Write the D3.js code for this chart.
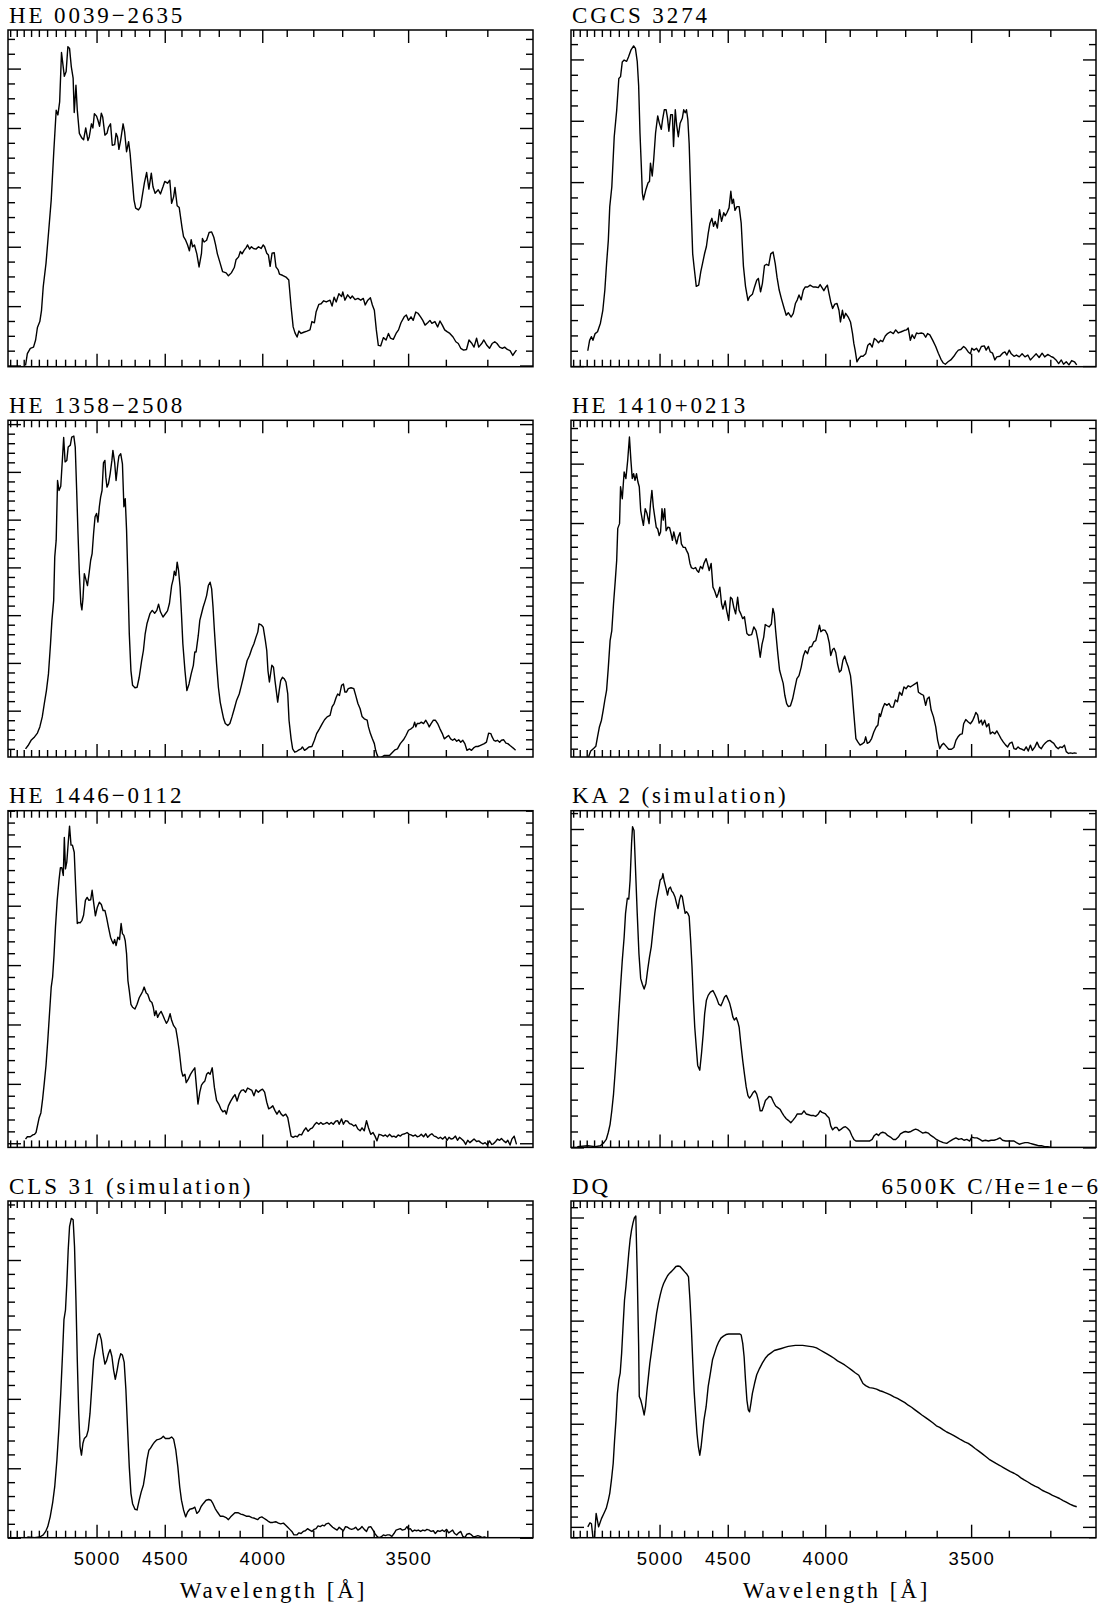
<!DOCTYPE html>
<html>
<head>
<meta charset="utf-8">
<title>Spectra</title>
<script src="https://cdn.jsdelivr.net/npm/d3@7"></script>
<style>
  body { margin: 0; background: #fff; }
  .title, .xlabel { font-family: "Liberation Serif", serif; font-size: 23px; letter-spacing: 2.9px; }
  .ticklab { font-family: "Liberation Sans", sans-serif; font-size: 18.5px; letter-spacing: 1.4px; }
</style>
</head>
<body>
<svg id="chart" width="1101" height="1607"></svg>
<script>
// wavelength axis (Angstrom), reversed and non-linear (prism dispersion)
const waveDomain = [6034, 3200];
const majorWaves = [5000, 4500, 4000, 3500];
const minorWaves = d3.range(3300, 6001, 100);

const titles = ["HE 0039−2635", "CGCS 3274", "HE 1358−2508", "HE 1410+0213",
                "HE 1446−0112", "KA 2 (simulation)", "CLS 31 (simulation)", "DQ"];
const rightTitles = ["", "", "", "", "", "", "", "6500K C/He=1e−6"];
// flux ranges of each panel, in units of the major y tick step
const yRanges = [[-0.02, 5.65], [-0.01, 5.48], [0.03, 7.08], [0.06, 5.73],
                 [-0.07, 5.60], [0, 4.23], [0, 4.85], [-0.21, 6.32]];
const yMinorCounts = [4, 4, 5, 5, 5, 5, 5, 5];

const he0039 = [[5775,0],[5750,0.2],[5710,0.29],[5668,0.31],[5641,0.43],[5618,0.64],[5588,0.74],[5567,0.93],[5546,1.33],[5513,1.72],[5484,2.22],[5452,2.79],[5424,3.57],[5396,4.3],[5377,4.22],[5358,4.44],[5338,5.27],[5308,4.87],[5289,4.95],[5271,5.37],[5254,5.34],[5236,5.03],[5218,4.84],[5207,4.26],[5190,4.72],[5177,4.3],[5157,3.91],[5133,3.83],[5117,3.8],[5097,4.0],[5077,3.79],[5065,3.85],[5045,4.07],[5032,4.0],[5019,4.24],[5000,4.2],[4988,4.13],[4974,4.03],[4959,4.25],[4947,4.18],[4929,3.88],[4912,3.91],[4900,4.01],[4883,4.07],[4869,3.71],[4850,3.72],[4839,3.91],[4828,3.85],[4817,3.64],[4803,3.8],[4785,4.07],[4774,3.94],[4759,3.6],[4744,3.77],[4733,3.57],[4723,3.29],[4705,2.79],[4693,2.65],[4673,2.62],[4659,2.67],[4644,2.9],[4632,3.08],[4617,3.25],[4602,2.97],[4586,3.24],[4575,3.01],[4561,2.9],[4541,2.96],[4527,2.89],[4511,3.01],[4500,3.1],[4483,3.07],[4469,3.12],[4458,2.73],[4446,2.84],[4438,3.0],[4425,2.69],[4413,2.66],[4396,2.31],[4388,2.17],[4376,2.11],[4365,2.03],[4355,1.93],[4345,2.12],[4337,2.0],[4327,2.03],[4314,1.88],[4302,1.66],[4289,1.89],[4284,2.14],[4275,2.08],[4262,2.11],[4249,2.24],[4236,2.25],[4225,2.16],[4216,2.03],[4207,1.88],[4193,1.72],[4181,1.58],[4164,1.56],[4153,1.51],[4139,1.56],[4125,1.65],[4117,1.78],[4105,1.83],[4097,1.92],[4089,1.88],[4080,1.94],[4070,1.99],[4064,2.03],[4055,1.96],[4047,2.0],[4038,1.97],[4027,1.96],[4016,2.0],[4005,1.97],[3996,2.03],[3990,2.0],[3981,1.89],[3974,1.86],[3967,1.67],[3959,1.89],[3950,1.9],[3943,1.66],[3934,1.61],[3929,1.54],[3917,1.52],[3903,1.49],[3892,1.44],[3883,0.99],[3875,0.65],[3868,0.55],[3860,0.48],[3853,0.58],[3845,0.54],[3835,0.56],[3823,0.58],[3812,0.6],[3805,0.74],[3796,0.72],[3790,0.9],[3780,1.03],[3772,1.04],[3763,1.09],[3754,1.07],[3741,1.1],[3734,1.0],[3727,1.15],[3720,1.07],[3711,1.21],[3702,1.16],[3698,1.24],[3691,1.1],[3682,1.19],[3673,1.13],[3667,1.17],[3658,1.11],[3649,1.13],[3640,1.1],[3632,1.13],[3626,1.02],[3618,1.1],[3610,1.14],[3604,1.02],[3598,0.93],[3592,0.6],[3586,0.34],[3579,0.33],[3571,0.47],[3563,0.43],[3556,0.54],[3550,0.46],[3542,0.44],[3534,0.54],[3527,0.6],[3520,0.72],[3511,0.82],[3505,0.85],[3499,0.76],[3492,0.82],[3486,0.76],[3479,0.9],[3473,0.88],[3466,0.82],[3460,0.76],[3454,0.68],[3447,0.72],[3441,0.76],[3436,0.71],[3428,0.74],[3421,0.65],[3415,0.75],[3409,0.68],[3403,0.6],[3397,0.57],[3390,0.54],[3382,0.48],[3375,0.4],[3369,0.37],[3363,0.29],[3356,0.26],[3349,0.27],[3343,0.43],[3337,0.38],[3331,0.31],[3325,0.46],[3320,0.31],[3313,0.37],[3308,0.43],[3301,0.34],[3295,0.29],[3289,0.37],[3283,0.4],[3278,0.37],[3272,0.31],[3266,0.29],[3261,0.31],[3255,0.27],[3249,0.25],[3243,0.17],[3238,0.23],[3235,0.26]];

const cgcs3274 = [[5785,0.25],[5760,0.42],[5735,0.48],[5715,0.42],[5686,0.53],[5655,0.56],[5618,0.7],[5588,0.91],[5563,1.24],[5542,1.67],[5521,2.05],[5504,2.6],[5480,2.92],[5452,3.74],[5424,4.17],[5400,4.69],[5381,4.72],[5362,4.96],[5342,4.99],[5315,4.97],[5296,5.04],[5271,5.15],[5243,5.22],[5225,5.18],[5207,4.97],[5193,4.57],[5180,3.8],[5167,3.26],[5157,2.82],[5147,2.71],[5123,2.88],[5103,2.99],[5090,3.01],[5081,3.31],[5065,3.1],[5052,3.36],[5035,3.8],[5016,4.08],[5003,3.97],[4985,3.86],[4974,4.02],[4959,4.18],[4944,4.18],[4932,4.04],[4921,3.83],[4906,4.1],[4892,4.1],[4883,3.58],[4869,4.18],[4858,3.93],[4845,3.74],[4831,3.96],[4814,4.04],[4803,4.18],[4792,4.13],[4782,4.18],[4772,4.02],[4762,3.63],[4749,2.7],[4736,1.83],[4726,1.62],[4710,1.3],[4693,1.32],[4678,1.54],[4666,1.67],[4651,1.84],[4639,1.95],[4627,2.16],[4615,2.33],[4602,2.41],[4591,2.28],[4580,2.36],[4566,2.25],[4552,2.55],[4539,2.36],[4525,2.5],[4516,2.45],[4505,2.5],[4492,2.58],[4481,2.85],[4473,2.65],[4465,2.72],[4456,2.54],[4444,2.6],[4431,2.6],[4419,2.33],[4406,1.63],[4394,1.3],[4380,1.07],[4371,1.13],[4355,1.17],[4343,1.29],[4331,1.4],[4322,1.43],[4310,1.21],[4300,1.35],[4289,1.64],[4278,1.66],[4267,1.64],[4256,1.83],[4244,1.86],[4233,1.67],[4224,1.45],[4213,1.24],[4202,1.1],[4188,0.94],[4178,0.83],[4168,0.87],[4154,0.8],[4144,0.86],[4134,1.02],[4125,1.08],[4117,1.16],[4107,1.08],[4097,1.24],[4088,1.29],[4077,1.29],[4066,1.32],[4053,1.29],[4041,1.29],[4030,1.28],[4022,1.33],[4014,1.28],[4006,1.23],[3997,1.29],[3991,1.32],[3984,1.18],[3977,1.05],[3969,0.94],[3960,1.01],[3951,1.02],[3943,0.91],[3937,0.72],[3929,0.91],[3923,0.78],[3916,0.86],[3906,0.8],[3897,0.72],[3889,0.53],[3884,0.37],[3879,0.26],[3872,0.07],[3865,0.12],[3857,0.16],[3849,0.16],[3839,0.2],[3831,0.34],[3823,0.37],[3815,0.31],[3807,0.45],[3799,0.42],[3792,0.38],[3785,0.42],[3777,0.4],[3768,0.49],[3760,0.53],[3750,0.56],[3740,0.53],[3732,0.59],[3723,0.54],[3713,0.56],[3704,0.58],[3696,0.59],[3690,0.62],[3683,0.42],[3677,0.51],[3670,0.45],[3663,0.54],[3657,0.53],[3648,0.54],[3641,0.53],[3634,0.47],[3628,0.53],[3621,0.51],[3612,0.42],[3603,0.32],[3595,0.21],[3587,0.11],[3580,0.05],[3574,0.03],[3566,0.07],[3558,0.1],[3549,0.16],[3542,0.22],[3536,0.26],[3529,0.27],[3521,0.32],[3515,0.29],[3508,0.23],[3502,0.2],[3498,0.29],[3492,0.26],[3485,0.29],[3479,0.23],[3472,0.32],[3464,0.33],[3459,0.26],[3453,0.32],[3448,0.23],[3442,0.21],[3436,0.1],[3431,0.15],[3423,0.16],[3416,0.21],[3410,0.23],[3405,0.18],[3399,0.26],[3394,0.2],[3387,0.16],[3381,0.18],[3374,0.15],[3367,0.2],[3360,0.15],[3353,0.18],[3347,0.1],[3340,0.15],[3333,0.2],[3326,0.14],[3319,0.21],[3313,0.15],[3306,0.19],[3299,0.16],[3293,0.14],[3287,0.1],[3281,0.04],[3275,0.1],[3270,0.03],[3264,0.07],[3258,0.02],[3252,0.09],[3246,0.07],[3241,0.02]];

const he1358 = [[5775,0.2],[5740,0.27],[5700,0.38],[5655,0.45],[5618,0.53],[5588,0.66],[5558,0.87],[5533,1.15],[5508,1.42],[5484,1.77],[5460,2.4],[5444,2.89],[5424,3.31],[5412,4.22],[5396,4.57],[5381,5.82],[5365,5.61],[5346,5.7],[5327,6.31],[5315,6.72],[5300,6.21],[5282,6.24],[5268,6.52],[5246,6.56],[5232,6.73],[5211,6.75],[5197,6.52],[5183,5.61],[5170,4.71],[5157,3.87],[5143,3.24],[5133,3.11],[5123,3.34],[5110,3.87],[5097,3.76],[5081,3.62],[5065,3.9],[5052,4.15],[5039,4.29],[5026,4.71],[5013,5.06],[5000,5.13],[4988,4.95],[4976,5.27],[4965,5.47],[4953,5.61],[4941,6.19],[4929,6.24],[4921,5.89],[4912,5.68],[4900,5.75],[4886,5.96],[4872,6.24],[4864,6.45],[4850,6.19],[4839,5.82],[4825,6.17],[4817,6.33],[4803,6.38],[4790,6.17],[4779,5.27],[4769,5.44],[4759,4.78],[4749,3.73],[4739,2.61],[4727,1.84],[4715,1.53],[4698,1.48],[4683,1.49],[4668,1.7],[4651,2.05],[4639,2.26],[4627,2.61],[4615,2.82],[4595,3.03],[4580,3.1],[4564,3.04],[4550,3.1],[4539,3.23],[4527,3.07],[4511,2.96],[4496,3.03],[4483,3.09],[4471,3.25],[4458,3.62],[4448,3.76],[4442,3.92],[4433,3.83],[4425,4.11],[4417,3.94],[4408,3.59],[4400,3.03],[4392,2.4],[4380,1.84],[4369,1.42],[4357,1.56],[4345,1.77],[4333,1.95],[4325,2.23],[4318,2.23],[4306,2.58],[4298,2.89],[4289,3.03],[4280,3.17],[4269,3.31],[4262,3.41],[4253,3.62],[4244,3.69],[4236,3.55],[4229,3.17],[4222,2.68],[4211,1.98],[4202,1.49],[4193,1.18],[4183,0.97],[4176,0.83],[4168,0.73],[4156,0.69],[4146,0.73],[4136,0.87],[4125,1.04],[4114,1.22],[4102,1.35],[4092,1.53],[4083,1.7],[4073,1.91],[4066,2.05],[4055,2.16],[4045,2.3],[4036,2.4],[4027,2.54],[4019,2.65],[4014,2.82],[4003,2.79],[3996,2.75],[3987,2.47],[3981,2.26],[3976,1.84],[3970,1.6],[3964,1.81],[3960,1.95],[3953,1.91],[3947,1.63],[3941,1.39],[3936,1.18],[3930,1.42],[3924,1.63],[3917,1.7],[3910,1.67],[3903,1.6],[3896,1.35],[3891,0.8],[3883,0.41],[3877,0.2],[3869,0.13],[3861,0.15],[3853,0.18],[3845,0.2],[3840,0.24],[3832,0.17],[3824,0.2],[3816,0.24],[3805,0.25],[3796,0.38],[3788,0.52],[3778,0.62],[3768,0.73],[3760,0.81],[3751,0.87],[3741,0.9],[3734,1.08],[3727,1.15],[3720,1.28],[3715,1.35],[3709,1.32],[3702,1.53],[3696,1.56],[3691,1.39],[3686,1.39],[3680,1.46],[3671,1.48],[3662,1.46],[3656,1.32],[3649,1.15],[3642,1.04],[3636,0.88],[3629,0.83],[3620,0.8],[3616,0.66],[3610,0.52],[3604,0.41],[3598,0.31],[3594,0.17],[3590,0.08],[3584,-0.01],[3576,0.03],[3569,0.06],[3561,0.06],[3553,0.06],[3544,0.13],[3537,0.18],[3530,0.2],[3522,0.31],[3513,0.39],[3506,0.48],[3499,0.59],[3492,0.62],[3486,0.66],[3482,0.76],[3479,0.66],[3475,0.73],[3469,0.73],[3464,0.76],[3458,0.73],[3452,0.8],[3447,0.73],[3443,0.66],[3438,0.73],[3432,0.8],[3427,0.8],[3421,0.73],[3415,0.62],[3409,0.52],[3404,0.41],[3398,0.45],[3393,0.48],[3388,0.41],[3383,0.38],[3378,0.41],[3373,0.36],[3368,0.39],[3363,0.34],[3358,0.38],[3353,0.31],[3348,0.17],[3342,0.2],[3337,0.17],[3332,0.22],[3327,0.25],[3322,0.25],[3317,0.27],[3312,0.29],[3307,0.31],[3302,0.34],[3297,0.53],[3292,0.52],[3289,0.45],[3285,0.38],[3281,0.36],[3277,0.38],[3272,0.34],[3268,0.38],[3263,0.39],[3258,0.32],[3254,0.31],[3249,0.27],[3245,0.24],[3240,0.2],[3237,0.17]];

const he1410 = [[5775,0.06],[5745,0.16],[5710,0.2],[5677,0.24],[5655,0.4],[5632,0.56],[5605,0.68],[5583,0.85],[5563,1.02],[5542,1.18],[5521,1.57],[5500,2.02],[5480,2.19],[5460,2.64],[5440,3.03],[5424,3.37],[5412,3.91],[5392,3.99],[5381,4.61],[5362,4.41],[5342,4.86],[5323,4.75],[5304,5.06],[5286,5.45],[5271,5.06],[5257,4.75],[5243,4.83],[5229,4.72],[5214,4.83],[5200,4.69],[5187,4.61],[5173,4.21],[5157,4.05],[5147,3.96],[5130,4.24],[5113,4.16],[5094,3.99],[5081,4.32],[5068,4.55],[5055,4.27],[5042,4.1],[5029,3.93],[5016,3.9],[5003,3.79],[4991,3.85],[4979,4.24],[4968,4.05],[4956,4.24],[4944,3.87],[4929,3.93],[4915,3.92],[4903,3.82],[4892,3.71],[4881,3.85],[4869,3.74],[4858,3.65],[4845,3.77],[4831,3.84],[4821,3.65],[4806,3.59],[4792,3.59],[4782,3.54],[4769,3.48],[4756,3.32],[4746,3.25],[4731,3.23],[4715,3.25],[4705,3.2],[4693,3.17],[4680,3.27],[4666,3.23],[4656,3.32],[4641,3.4],[4632,3.32],[4620,3.2],[4607,3.32],[4595,2.92],[4584,2.86],[4570,2.75],[4561,2.81],[4550,2.92],[4539,2.64],[4530,2.55],[4516,2.69],[4507,2.53],[4494,2.36],[4483,2.75],[4473,2.72],[4463,2.58],[4452,2.47],[4440,2.75],[4431,2.53],[4421,2.47],[4410,2.39],[4400,2.42],[4386,2.14],[4375,2.11],[4359,2.12],[4347,2.25],[4335,2.19],[4324,2.02],[4312,1.74],[4302,1.96],[4293,2.08],[4285,2.29],[4275,2.27],[4264,2.25],[4253,2.3],[4245,2.56],[4238,2.47],[4231,2.19],[4220,1.8],[4211,1.52],[4202,1.41],[4193,1.3],[4185,1.1],[4176,0.96],[4168,0.91],[4158,0.92],[4147,1.04],[4137,1.21],[4127,1.38],[4117,1.43],[4107,1.57],[4097,1.76],[4088,1.85],[4078,1.8],[4069,1.91],[4059,1.92],[4050,2.0],[4041,2.02],[4034,2.13],[4025,2.28],[4019,2.17],[4009,2.2],[4000,2.19],[3991,2.12],[3983,1.98],[3977,1.77],[3969,1.87],[3963,1.89],[3956,1.82],[3949,1.63],[3941,1.49],[3934,1.52],[3927,1.69],[3920,1.76],[3913,1.66],[3906,1.58],[3897,1.43],[3892,1.23],[3884,0.79],[3876,0.37],[3868,0.31],[3860,0.26],[3852,0.28],[3844,0.31],[3839,0.4],[3833,0.29],[3825,0.31],[3817,0.37],[3809,0.48],[3801,0.56],[3794,0.6],[3789,0.79],[3785,0.74],[3777,0.88],[3770,0.96],[3762,0.93],[3755,0.96],[3748,0.9],[3740,0.9],[3733,1.02],[3726,0.99],[3719,1.15],[3711,1.1],[3704,1.24],[3697,1.21],[3690,1.26],[3683,1.24],[3677,1.26],[3668,1.29],[3661,1.32],[3657,1.15],[3648,1.12],[3641,1.1],[3634,0.93],[3629,1.04],[3623,1.07],[3617,0.85],[3610,0.74],[3603,0.57],[3597,0.34],[3591,0.2],[3585,0.26],[3579,0.29],[3570,0.23],[3564,0.19],[3556,0.19],[3549,0.22],[3543,0.34],[3537,0.4],[3531,0.44],[3525,0.45],[3521,0.62],[3515,0.69],[3508,0.65],[3502,0.62],[3496,0.67],[3491,0.74],[3487,0.81],[3482,0.77],[3478,0.63],[3472,0.68],[3469,0.6],[3463,0.68],[3458,0.57],[3452,0.62],[3448,0.45],[3442,0.48],[3436,0.45],[3431,0.5],[3425,0.43],[3420,0.37],[3414,0.31],[3408,0.26],[3403,0.23],[3398,0.29],[3392,0.31],[3387,0.2],[3382,0.19],[3377,0.23],[3372,0.2],[3367,0.19],[3362,0.17],[3357,0.23],[3352,0.16],[3347,0.26],[3342,0.17],[3336,0.23],[3331,0.31],[3326,0.23],[3321,0.2],[3316,0.26],[3311,0.3],[3306,0.33],[3301,0.34],[3296,0.31],[3292,0.29],[3287,0.23],[3282,0.2],[3278,0.23],[3273,0.22],[3268,0.26],[3264,0.15],[3259,0.12],[3255,0.13],[3250,0.12],[3246,0.13],[3241,0.12]];

const he1446 = [[5775,0.07],[5750,0.11],[5710,0.11],[5677,0.14],[5655,0.15],[5636,0.18],[5618,0.29],[5596,0.43],[5575,0.51],[5554,0.74],[5533,1.02],[5513,1.31],[5492,1.73],[5472,2.18],[5452,2.63],[5436,2.8],[5420,3.17],[5404,3.64],[5385,4.09],[5365,4.43],[5350,4.64],[5335,4.64],[5319,4.51],[5308,5.15],[5296,4.62],[5282,4.74],[5268,5.05],[5254,5.34],[5239,5.02],[5225,5.02],[5207,4.9],[5190,4.2],[5177,3.7],[5163,3.72],[5150,3.71],[5133,3.75],[5117,3.84],[5100,4.09],[5084,4.14],[5068,4.09],[5052,4.1],[5039,4.26],[5026,4.06],[5010,3.83],[4994,3.97],[4976,4.06],[4959,4.02],[4944,3.92],[4929,3.92],[4915,3.8],[4900,3.64],[4883,3.47],[4872,3.41],[4861,3.36],[4850,3.43],[4839,3.33],[4825,3.47],[4812,3.43],[4800,3.7],[4790,3.53],[4779,3.5],[4769,3.41],[4759,3.19],[4749,2.74],[4739,2.57],[4727,2.34],[4715,2.29],[4698,2.26],[4683,2.34],[4668,2.45],[4654,2.51],[4644,2.56],[4634,2.63],[4620,2.53],[4610,2.51],[4595,2.4],[4582,2.37],[4573,2.29],[4564,2.15],[4555,2.23],[4545,2.12],[4534,2.18],[4523,2.22],[4511,2.15],[4500,2.08],[4490,2.02],[4479,2.07],[4467,2.18],[4458,2.07],[4446,1.98],[4433,1.93],[4423,1.76],[4413,1.56],[4400,1.22],[4392,1.13],[4380,1.16],[4373,1.02],[4361,1.08],[4349,1.16],[4337,1.22],[4325,1.27],[4318,1.02],[4308,0.66],[4298,0.86],[4289,0.98],[4280,1.02],[4271,1.05],[4262,1.16],[4253,1.19],[4244,1.16],[4233,1.27],[4222,0.94],[4211,0.72],[4200,0.66],[4190,0.58],[4180,0.53],[4170,0.55],[4163,0.49],[4153,0.63],[4142,0.71],[4132,0.77],[4122,0.82],[4112,0.71],[4102,0.83],[4092,0.89],[4083,0.9],[4073,0.86],[4064,0.93],[4055,0.91],[4045,0.89],[4036,0.8],[4027,0.9],[4017,0.86],[4008,0.89],[3999,0.91],[3990,0.86],[3981,0.69],[3973,0.58],[3964,0.6],[3956,0.63],[3947,0.55],[3939,0.49],[3930,0.55],[3922,0.49],[3914,0.46],[3904,0.49],[3896,0.43],[3888,0.24],[3883,0.12],[3875,0.1],[3867,0.12],[3859,0.11],[3851,0.15],[3843,0.14],[3835,0.21],[3827,0.26],[3819,0.2],[3811,0.24],[3803,0.26],[3796,0.31],[3788,0.35],[3780,0.32],[3773,0.35],[3766,0.32],[3759,0.33],[3751,0.35],[3744,0.32],[3737,0.35],[3730,0.32],[3722,0.37],[3715,0.38],[3710,0.32],[3702,0.41],[3696,0.32],[3689,0.38],[3682,0.37],[3676,0.33],[3669,0.32],[3662,0.29],[3656,0.31],[3649,0.24],[3642,0.21],[3636,0.26],[3629,0.21],[3622,0.38],[3616,0.26],[3609,0.15],[3602,0.18],[3596,0.12],[3590,0.04],[3584,0.15],[3578,0.14],[3571,0.12],[3565,0.14],[3559,0.11],[3553,0.15],[3546,0.11],[3540,0.12],[3534,0.1],[3528,0.14],[3522,0.12],[3516,0.15],[3509,0.16],[3503,0.18],[3497,0.15],[3492,0.14],[3486,0.12],[3480,0.14],[3475,0.11],[3469,0.12],[3464,0.15],[3458,0.11],[3452,0.16],[3447,0.1],[3441,0.14],[3436,0.16],[3430,0.12],[3425,0.11],[3419,0.08],[3414,0.1],[3408,0.07],[3402,0.11],[3397,0.05],[3392,0.1],[3387,0.07],[3382,0.08],[3376,0.12],[3371,0.05],[3366,0.1],[3361,0.07],[3356,0.04],[3351,-0.02],[3346,0.05],[3341,0.01],[3336,0.04],[3331,0.07],[3325,0.03],[3320,0.04],[3315,0.01],[3310,-0.01],[3305,0.01],[3300,-0.03],[3295,0.04],[3290,-0.02],[3286,-0.01],[3281,0.03],[3277,0.07],[3272,0.05],[3268,0.08],[3263,0.04],[3258,0.01],[3254,0.05],[3249,-0.03],[3245,0.07],[3240,0.12],[3235,-0.02]];

const ka2 = [[5937,0.01],[5785,0.02],[5686,0.01],[5618,0.02],[5575,0.06],[5546,0.1],[5521,0.19],[5500,0.29],[5480,0.46],[5460,0.67],[5440,0.97],[5420,1.3],[5400,1.68],[5381,2.02],[5362,2.35],[5342,2.64],[5327,2.94],[5308,3.13],[5293,3.12],[5279,3.36],[5264,3.82],[5254,4.03],[5239,3.98],[5225,3.53],[5207,2.94],[5190,2.43],[5173,2.12],[5157,2.05],[5140,1.99],[5123,2.06],[5107,2.23],[5090,2.39],[5074,2.52],[5058,2.73],[5042,2.94],[5026,3.11],[5010,3.23],[4994,3.36],[4979,3.38],[4971,3.44],[4959,3.34],[4944,3.25],[4932,3.17],[4921,3.25],[4909,3.27],[4897,3.22],[4886,3.2],[4872,3.15],[4858,3.06],[4847,3.0],[4836,3.11],[4825,3.17],[4814,3.15],[4803,3.04],[4792,2.94],[4782,2.96],[4772,2.94],[4762,2.9],[4751,2.6],[4741,2.27],[4731,1.85],[4721,1.51],[4710,1.26],[4700,1.03],[4685,0.97],[4673,1.18],[4661,1.43],[4651,1.68],[4639,1.85],[4627,1.91],[4612,1.95],[4595,1.97],[4584,1.93],[4570,1.87],[4557,1.8],[4543,1.78],[4532,1.83],[4520,1.89],[4509,1.91],[4498,1.86],[4488,1.81],[4477,1.72],[4469,1.64],[4460,1.6],[4448,1.63],[4438,1.57],[4431,1.51],[4421,1.3],[4410,1.09],[4400,0.92],[4390,0.76],[4380,0.65],[4371,0.62],[4361,0.65],[4351,0.69],[4341,0.71],[4331,0.67],[4322,0.59],[4312,0.46],[4302,0.46],[4293,0.52],[4284,0.59],[4275,0.61],[4265,0.64],[4253,0.63],[4242,0.57],[4231,0.52],[4220,0.5],[4209,0.48],[4200,0.44],[4190,0.4],[4178,0.36],[4168,0.34],[4156,0.31],[4146,0.34],[4134,0.38],[4125,0.42],[4114,0.42],[4104,0.42],[4094,0.46],[4084,0.42],[4072,0.41],[4061,0.4],[4050,0.4],[4041,0.39],[4030,0.42],[4022,0.46],[4014,0.44],[4006,0.43],[3999,0.42],[3991,0.39],[3984,0.37],[3977,0.27],[3969,0.22],[3960,0.25],[3951,0.25],[3943,0.21],[3934,0.23],[3926,0.25],[3917,0.26],[3909,0.24],[3900,0.21],[3892,0.15],[3884,0.1],[3876,0.08],[3868,0.08],[3857,0.08],[3847,0.08],[3836,0.08],[3825,0.08],[3815,0.1],[3807,0.15],[3799,0.17],[3792,0.15],[3785,0.18],[3777,0.19],[3768,0.18],[3760,0.15],[3750,0.13],[3740,0.1],[3732,0.1],[3723,0.13],[3716,0.17],[3707,0.19],[3699,0.2],[3690,0.19],[3681,0.2],[3672,0.22],[3666,0.23],[3659,0.22],[3651,0.2],[3643,0.18],[3634,0.19],[3626,0.18],[3618,0.15],[3610,0.13],[3601,0.1],[3591,0.08],[3580,0.06],[3570,0.05],[3560,0.08],[3552,0.1],[3543,0.12],[3535,0.1],[3527,0.11],[3520,0.09],[3512,0.1],[3504,0.08],[3498,0.13],[3491,0.12],[3484,0.12],[3476,0.1],[3469,0.08],[3461,0.09],[3453,0.08],[3446,0.09],[3438,0.09],[3431,0.1],[3423,0.12],[3416,0.09],[3408,0.08],[3401,0.08],[3394,0.08],[3387,0.08],[3381,0.06],[3374,0.04],[3367,0.05],[3360,0.06],[3353,0.06],[3347,0.05],[3340,0.04],[3333,0.03],[3326,0.02],[3319,0.02],[3313,0.01],[3306,0.01],[3299,0]];

const cls31 = [[5750,0.01],[5655,0],[5588,0.01],[5546,0.04],[5517,0.09],[5492,0.16],[5464,0.3],[5436,0.5],[5412,0.74],[5388,1.12],[5365,1.6],[5346,2.08],[5327,2.65],[5312,3.14],[5296,3.28],[5282,3.66],[5268,4.14],[5254,4.48],[5236,4.6],[5218,4.58],[5204,4.19],[5190,3.42],[5177,2.56],[5163,1.79],[5150,1.31],[5137,1.19],[5123,1.36],[5110,1.43],[5090,1.46],[5074,1.55],[5058,1.79],[5042,2.17],[5026,2.56],[5006,2.75],[4988,2.92],[4974,2.94],[4959,2.85],[4944,2.65],[4929,2.5],[4915,2.55],[4900,2.65],[4886,2.71],[4872,2.61],[4858,2.41],[4845,2.28],[4831,2.41],[4817,2.56],[4803,2.65],[4790,2.63],[4777,2.53],[4764,2.13],[4751,1.55],[4739,1.02],[4727,0.64],[4715,0.49],[4698,0.41],[4683,0.4],[4668,0.54],[4654,0.66],[4639,0.76],[4627,0.92],[4615,1.12],[4602,1.26],[4591,1.29],[4577,1.34],[4564,1.38],[4550,1.41],[4534,1.42],[4523,1.43],[4509,1.46],[4496,1.43],[4483,1.43],[4471,1.43],[4458,1.45],[4446,1.42],[4433,1.26],[4421,1.02],[4410,0.73],[4400,0.54],[4388,0.4],[4376,0.3],[4365,0.37],[4353,0.41],[4337,0.42],[4325,0.44],[4314,0.35],[4302,0.38],[4291,0.45],[4280,0.49],[4265,0.54],[4251,0.55],[4240,0.54],[4229,0.49],[4218,0.42],[4207,0.37],[4193,0.31],[4180,0.31],[4164,0.29],[4153,0.26],[4142,0.3],[4132,0.33],[4122,0.36],[4108,0.36],[4095,0.34],[4083,0.33],[4070,0.31],[4058,0.31],[4045,0.29],[4033,0.28],[4020,0.26],[4011,0.29],[4002,0.3],[3993,0.28],[3984,0.26],[3976,0.24],[3967,0.22],[3956,0.22],[3944,0.23],[3933,0.21],[3924,0.2],[3913,0.21],[3904,0.18],[3896,0.15],[3888,0.12],[3880,0.09],[3872,0.04],[3861,0.04],[3853,0.07],[3845,0.06],[3837,0.09],[3829,0.1],[3821,0.13],[3813,0.11],[3805,0.09],[3797,0.12],[3790,0.13],[3783,0.17],[3775,0.16],[3768,0.18],[3761,0.17],[3754,0.2],[3746,0.21],[3739,0.18],[3732,0.15],[3725,0.13],[3717,0.11],[3710,0.15],[3702,0.12],[3696,0.1],[3689,0.16],[3682,0.15],[3676,0.13],[3669,0.12],[3662,0.13],[3656,0.15],[3649,0.11],[3642,0.13],[3636,0.16],[3629,0.12],[3622,0.09],[3616,0.15],[3609,0.16],[3602,0.11],[3596,0.06],[3590,0.02],[3584,0],[3578,0.01],[3571,0.04],[3565,0.03],[3559,0.04],[3553,0.04],[3546,0.02],[3540,0.06],[3534,0.11],[3528,0.12],[3522,0.13],[3516,0.11],[3509,0.12],[3503,0.16],[3499,0.12],[3494,0.13],[3488,0.09],[3482,0.11],[3477,0.1],[3472,0.11],[3466,0.09],[3460,0.11],[3454,0.1],[3449,0.12],[3443,0.11],[3438,0.09],[3432,0.1],[3427,0.06],[3421,0.1],[3415,0.09],[3409,0.11],[3404,0.09],[3398,0.12],[3393,0.07],[3388,0.09],[3383,0.11],[3378,0.06],[3373,0.04],[3368,0.07],[3363,0.09],[3358,0.02],[3353,0],[3348,0.05],[3342,0.06],[3337,0.04],[3332,0.01],[3327,0.02],[3322,0.03],[3317,0.02],[3312,0],[3307,0.01],[3302,0]];

const dq = [[5785,0],[5755,0.08],[5735,0.06],[5715,-0.21],[5695,-0.21],[5673,0.26],[5641,0],[5605,0.16],[5575,0.26],[5546,0.36],[5521,0.52],[5504,0.65],[5484,0.91],[5464,1.23],[5448,1.68],[5432,2.07],[5416,2.59],[5400,2.85],[5385,2.98],[5369,3.37],[5354,3.88],[5338,4.4],[5323,4.66],[5308,4.98],[5293,5.31],[5279,5.57],[5264,5.76],[5250,5.89],[5236,5.99],[5221,6.03],[5207,4.92],[5193,3.5],[5187,2.53],[5173,2.46],[5160,2.36],[5150,2.27],[5140,2.17],[5127,2.33],[5113,2.65],[5100,2.91],[5087,3.17],[5074,3.37],[5058,3.63],[5042,3.88],[5026,4.14],[5010,4.34],[4994,4.5],[4979,4.63],[4965,4.72],[4950,4.79],[4932,4.87],[4915,4.92],[4897,4.96],[4881,5.0],[4864,5.05],[4847,5.06],[4831,5.05],[4814,5.0],[4797,4.95],[4782,4.91],[4767,4.85],[4756,4.4],[4746,3.88],[4736,3.24],[4726,2.65],[4715,2.2],[4705,1.81],[4695,1.55],[4685,1.39],[4676,1.55],[4666,1.81],[4656,2.07],[4641,2.33],[4627,2.72],[4612,2.98],[4598,3.24],[4584,3.37],[4570,3.5],[4557,3.59],[4543,3.66],[4527,3.7],[4511,3.73],[4494,3.74],[4460,3.74],[4427,3.74],[4419,3.72],[4410,3.56],[4402,3.3],[4394,2.85],[4386,2.46],[4378,2.27],[4371,2.23],[4363,2.4],[4355,2.59],[4343,2.78],[4331,2.95],[4316,3.07],[4300,3.18],[4285,3.27],[4271,3.33],[4256,3.37],[4238,3.42],[4220,3.44],[4202,3.46],[4185,3.48],[4168,3.5],[4151,3.51],[4134,3.52],[4100,3.52],[4069,3.5],[4053,3.49],[4038,3.47],[4022,3.43],[4006,3.39],[3991,3.35],[3977,3.31],[3963,3.27],[3949,3.22],[3934,3.18],[3920,3.14],[3906,3.09],[3892,3.04],[3879,2.99],[3865,2.94],[3857,2.86],[3849,2.78],[3839,2.74],[3825,2.7],[3812,2.69],[3799,2.67],[3787,2.64],[3775,2.62],[3762,2.59],[3750,2.56],[3738,2.52],[3726,2.49],[3713,2.45],[3701,2.41],[3690,2.36],[3679,2.32],[3668,2.27],[3657,2.22],[3646,2.17],[3634,2.12],[3623,2.07],[3612,2.02],[3601,1.96],[3591,1.93],[3580,1.88],[3570,1.84],[3560,1.81],[3549,1.77],[3539,1.73],[3529,1.69],[3518,1.65],[3508,1.62],[3498,1.57],[3489,1.52],[3479,1.47],[3470,1.42],[3461,1.37],[3451,1.31],[3442,1.27],[3433,1.23],[3423,1.19],[3414,1.15],[3405,1.11],[3396,1.07],[3387,1.04],[3378,1.0],[3370,0.95],[3362,0.91],[3353,0.87],[3345,0.83],[3336,0.79],[3328,0.76],[3319,0.71],[3311,0.68],[3303,0.65],[3295,0.61],[3287,0.58],[3279,0.55],[3271,0.51],[3264,0.48],[3256,0.44],[3248,0.41],[3241,0.39]];

const spectra = [he0039, cgcs3274, he1358, he1410, he1446, ka2, cls31, dq];
const xLabels = majorWaves.map(String);
const xTitle = "Wavelength [Å]";

// layout
const W = 525, H = 336.7;
const colX = [8, 571];
const rowY = [30, 420.3, 810.7, 1201];
const majorLen = 13, minorLen = 7;

const svg = d3.select("#chart");
const x = d3.scalePow().exponent(-2.2).domain(waveDomain).range([0, W]);

function styleAxis(g) {
  g.select(".domain").remove();
  g.selectAll("line").attr("stroke", "#000").attr("stroke-width", 1.4);
  g.selectAll("text").remove();
}

spectra.forEach((data, i) => {
  const col = i % 2, row = Math.floor(i / 2);
  const g = svg.append("g").attr("transform", `translate(${colX[col]},${rowY[row]})`);
  const y = d3.scaleLinear().domain(yRanges[i]).range([H, 0]);

  const [lo, hi] = yRanges[i];
  const n = yMinorCounts[i];
  const yMajor = d3.range(Math.ceil(lo), Math.floor(hi) + 1);
  const yMinor = d3.range(Math.ceil(lo * n), Math.floor(hi * n) + 1).map(k => k / n)
    .filter(v => Math.abs(v - Math.round(v)) > 1e-6);
  const xMinor = minorWaves.filter(w => !majorWaves.includes(w));

  // x ticks, inward on top and bottom
  g.append("g").call(d3.axisTop(x).tickValues(xMinor).tickSize(-minorLen)).call(styleAxis);
  g.append("g").call(d3.axisTop(x).tickValues(majorWaves).tickSize(-majorLen)).call(styleAxis);
  g.append("g").attr("transform", `translate(0,${H})`)
    .call(d3.axisBottom(x).tickValues(xMinor).tickSize(-minorLen)).call(styleAxis);
  g.append("g").attr("transform", `translate(0,${H})`)
    .call(d3.axisBottom(x).tickValues(majorWaves).tickSize(-majorLen)).call(styleAxis);

  // y ticks, inward on left and right
  g.append("g").call(d3.axisLeft(y).tickValues(yMinor).tickSize(-minorLen)).call(styleAxis);
  g.append("g").call(d3.axisLeft(y).tickValues(yMajor).tickSize(-majorLen)).call(styleAxis);
  g.append("g").attr("transform", `translate(${W},0)`)
    .call(d3.axisRight(y).tickValues(yMinor).tickSize(-minorLen)).call(styleAxis);
  g.append("g").attr("transform", `translate(${W},0)`)
    .call(d3.axisRight(y).tickValues(yMajor).tickSize(-majorLen)).call(styleAxis);

  g.append("clipPath").attr("id", "clip" + i)
    .append("rect").attr("width", W).attr("height", H);

  g.append("path")
    .datum(data)
    .attr("clip-path", `url(#clip${i})`)
    .attr("fill", "none")
    .attr("stroke", "#000")
    .attr("stroke-width", 1.4)
    .attr("stroke-linejoin", "round")
    .attr("d", d3.line().x(d => x(d[0])).y(d => y(d[1])));

  g.append("rect")
    .attr("width", W).attr("height", H)
    .attr("fill", "none").attr("stroke", "#000").attr("stroke-width", 1.5);

  g.append("text").attr("class", "title")
    .attr("x", 1).attr("y", -7.5).text(titles[i]);
  if (rightTitles[i]) {
    g.append("text").attr("class", "title")
      .attr("x", W + 5).attr("y", -7.5).attr("text-anchor", "end").text(rightTitles[i]);
  }

  if (row === 3) {
    g.selectAll(".ticklab").data(majorWaves).enter().append("text")
      .attr("class", "ticklab")
      .attr("x", d => x(d) + 0.7)
      .attr("y", H + 27.5)
      .attr("text-anchor", "middle")
      .text((d, k) => xLabels[k]);
    g.append("text").attr("class", "xlabel")
      .attr("x", W / 2 + 3).attr("y", H + 60.5)
      .attr("text-anchor", "middle").text(xTitle);
  }
});
</script>
</body>
</html>
